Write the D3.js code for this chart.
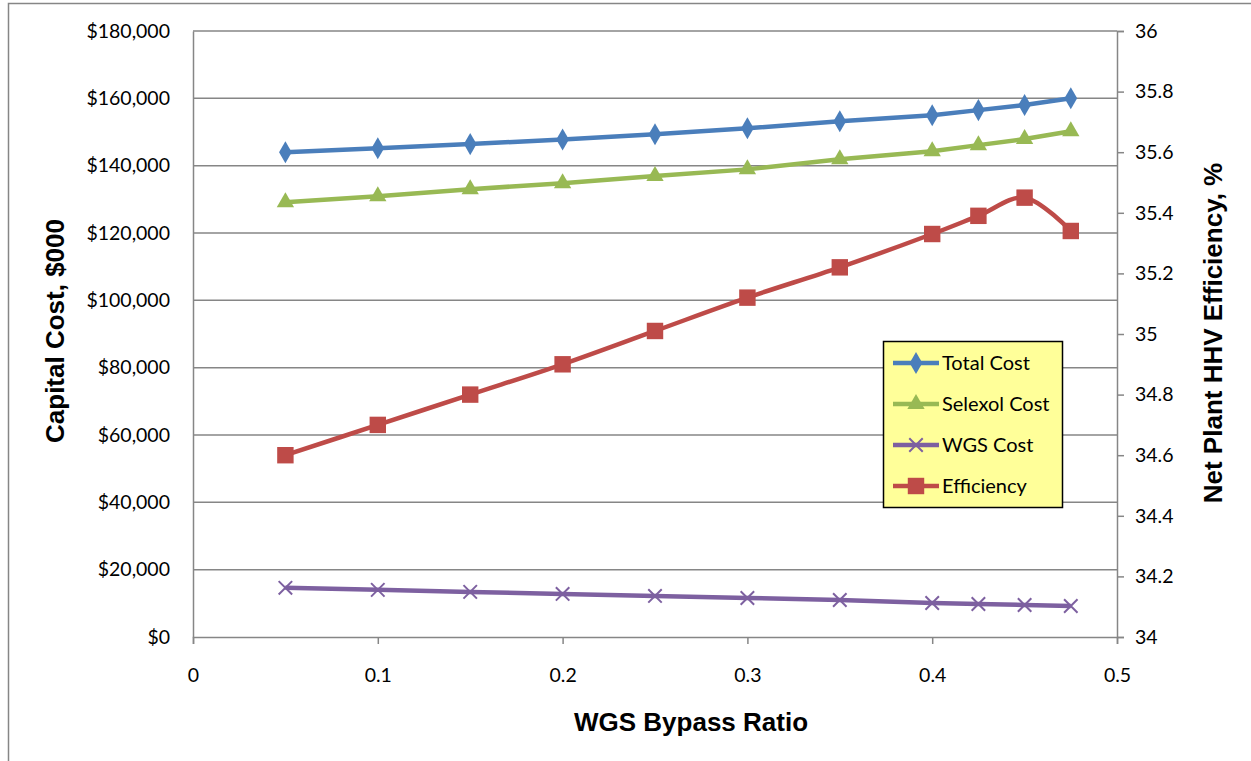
<!DOCTYPE html>
<html>
<head>
<meta charset="utf-8">
<script src="https://cdn.jsdelivr.net/npm/d3@7"></script>
<style>
  body { margin: 0; background: #fff; }
  text { font-family: Lato, "Open Sans", sans-serif; fill: #000; }
  .title { font-family: "Liberation Sans", Arial, sans-serif; font-weight: bold; }
</style>
</head>
<body>
<script>
const ratios = [0.05, 0.1, 0.15, 0.2, 0.25, 0.3, 0.35, 0.4, 0.425, 0.45, 0.475]
const totalCost = [144000, 145200, 146400, 147800, 149300, 151100, 153200, 155000, 156500, 158000, 160000]
const selexolCost = [129100, 130900, 133000, 134800, 136900, 138900, 141900, 144300, 146100, 147900, 150200]
const wgsCost = [14600, 14000, 13400, 12800, 12200, 11600, 11000, 10100, 9800, 9500, 9200]
const efficiency = [34.6, 34.7, 34.8, 34.9, 35.01, 35.12, 35.22, 35.33, 35.39, 35.45, 35.34]

const leftTicks = [0, 20000, 40000, 60000, 80000, 100000, 120000, 140000, 160000, 180000]
const rightTicks = [34, 34.2, 34.4, 34.6, 34.8, 35, 35.2, 35.4, 35.6, 35.8, 36]
const xTicks = [0, 0.1, 0.2, 0.3, 0.4, 0.5]

const series = [
  { name: "Total Cost", values: totalCost, color: "#4A7EBB", marker: "diamond", axis: "left" },
  { name: "Selexol Cost", values: selexolCost, color: "#98B954", marker: "triangle", axis: "left" },
  { name: "WGS Cost", values: wgsCost, color: "#7D60A0", marker: "x", axis: "left" },
  { name: "Efficiency", values: efficiency, color: "#BE4B48", marker: "square", axis: "right" }
]

const W = 1251, H = 761
const dims = { l: 193, r: 1117, t: 31, b: 637 }
const grey = "#868686"

const svg = d3.select("body").append("svg")
  .attr("width", W).attr("height", H)

// outer chart border
svg.append("rect")
  .attr("x", 8.5).attr("y", 3.5)
  .attr("width", W).attr("height", H)
  .attr("fill", "none").attr("stroke", grey).attr("stroke-width", 1.5)

const x = d3.scaleLinear().domain([0, 0.5]).range([dims.l, dims.r])
const yL = d3.scaleLinear().domain([0, 180000]).range([dims.b, dims.t])
const yR = d3.scaleLinear().domain([34, 36]).range([dims.b, dims.t])

// gridlines
svg.append("g").selectAll("line")
  .data(leftTicks.slice(1))
  .enter().append("line")
  .attr("x1", dims.l).attr("x2", dims.r)
  .attr("y1", d => yL(d)).attr("y2", d => yL(d))
  .attr("stroke", grey).attr("stroke-width", 1.5)

const fmtMoney = d => "$" + d3.format(",")(d)

const styleAxis = g => {
  g.select(".domain").attr("stroke", grey).attr("stroke-width", 1.5)
  g.selectAll(".tick line").attr("stroke", grey).attr("stroke-width", 1.5)
  g.selectAll("text").attr("font-size", 19.5).attr("font-family", "Lato, sans-serif").attr("fill", "#000")
}

svg.append("g")
  .attr("transform", `translate(${dims.l},0)`)
  .call(d3.axisLeft(yL).tickValues(leftTicks).tickFormat(fmtMoney).tickSize(0).tickPadding(23))
  .call(styleAxis)

svg.append("g")
  .attr("transform", `translate(${dims.r},0)`)
  .call(d3.axisRight(yR).tickValues(rightTicks).tickFormat(d => String(+d.toFixed(1))).tickSize(7).tickPadding(11))
  .call(styleAxis)

svg.append("g")
  .attr("transform", `translate(0,${dims.b})`)
  .call(d3.axisBottom(x).tickValues(xTicks).tickFormat(d => String(d)).tickSize(7).tickPadding(24))
  .call(styleAxis)

// lines + markers
const symbolFor = {
  diamond: d3.symbol().type(d3.symbolDiamond).size(140),
  triangle: d3.symbol().type(d3.symbolTriangle).size(130),
  square: d3.symbol().type(d3.symbolSquare).size(270),
  x: d3.symbol().type(d3.symbolX).size(120)
}

const drawMarker = (g, s, cx, cy) => {
  const p = g.append("path")
    .attr("d", symbolFor[s.marker]())
    .attr("transform", `translate(${cx},${cy})`)
  if (s.marker === "x") {
    p.attr("fill", "none").attr("stroke", s.color).attr("stroke-width", 2)
  } else {
    p.attr("fill", s.color)
  }
}

series.forEach(s => {
  const yS = s.axis === "left" ? yL : yR
  const line = d3.line()
    .x((d, i) => x(ratios[i]))
    .y(d => yS(d))
    .curve(s.axis === "right" ? d3.curveCatmullRom.alpha(0.5) : d3.curveLinear)
  const g = svg.append("g")
  g.append("path")
    .datum(s.values)
    .attr("d", line)
    .attr("fill", "none")
    .attr("stroke", s.color)
    .attr("stroke-width", 4.5)
    .attr("stroke-linejoin", "round")
  s.values.forEach((v, i) => drawMarker(g, s, x(ratios[i]), yS(v)))
})

// legend
const legend = svg.append("g").attr("transform", "translate(883,341)")
legend.append("rect")
  .attr("x", 0.5).attr("y", 0.5)
  .attr("width", 179).attr("height", 166)
  .attr("fill", "#FFFF99").attr("stroke", "#000").attr("stroke-width", 1.5)

series.forEach((s, i) => {
  const ly = 22 + i * 41
  const item = legend.append("g")
  item.append("line")
    .attr("x1", 10).attr("x2", 56).attr("y1", ly).attr("y2", ly)
    .attr("stroke", s.color).attr("stroke-width", 4.5)
  drawMarker(item, s, 33, ly)
  item.append("text")
    .attr("x", 59).attr("y", ly)
    .attr("dy", "0.35em")
    .attr("font-size", 20)
    .text(s.name)
})

// axis titles
svg.append("text")
  .attr("class", "title")
  .attr("x", 691).attr("y", 731)
  .attr("text-anchor", "middle")
  .attr("font-size", 26)
  .text("WGS Bypass Ratio")

svg.append("text")
  .attr("class", "title")
  .attr("transform", "translate(64,331) rotate(-90)")
  .attr("text-anchor", "middle")
  .attr("font-size", 26)
  .text("Capital Cost, $000")

svg.append("text")
  .attr("class", "title")
  .attr("transform", "translate(1222,333) rotate(-90)")
  .attr("text-anchor", "middle")
  .attr("font-size", 26)
  .text("Net Plant HHV Efficiency, %")
</script>
</body>
</html>
